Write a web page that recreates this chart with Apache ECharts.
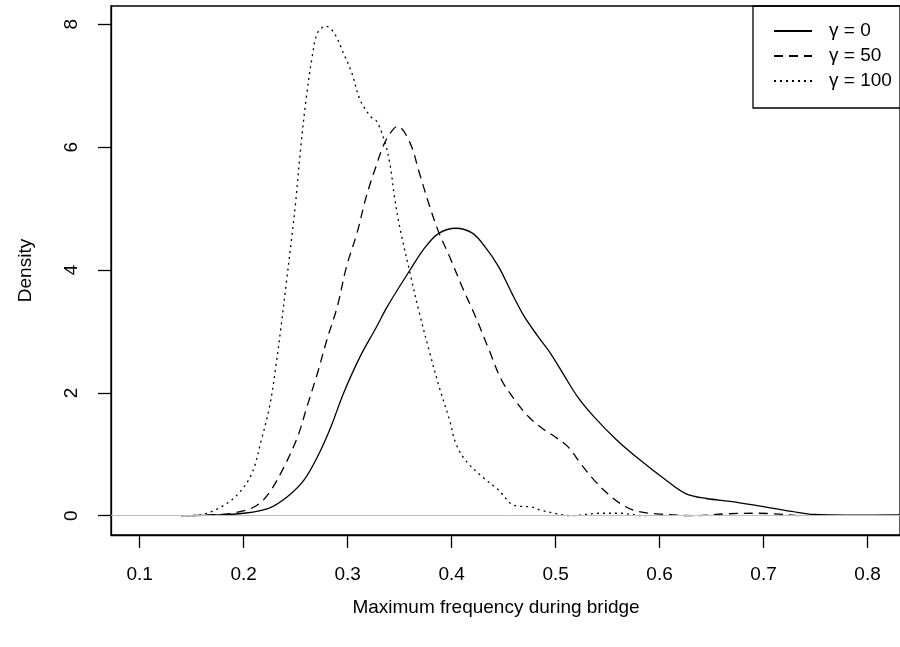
<!DOCTYPE html>
<html lang="en">
<head>
    <meta charset="UTF-8">
    <title>Maximum frequency during bridge</title>
    <script type="text/javascript" src="https://cdn.jsdelivr.net/npm/echarts@6/dist/echarts.min.js"></script>
    <style>
        html, body { margin: 0; padding: 0; background: #fff; }
    </style>
</head>
<body>
<div id="main" style="width: 900px;height:647px;"></div>

<script type="text/javascript">

    // density curves (x = max frequency, y = density)
    var gamma0X = [0.14,0.17,0.20,0.224,0.242,0.258,0.271,0.284,0.296,0.312,0.328,0.338,0.36,0.375,0.388,0.404,0.42,0.432,0.445,0.458,0.47,0.483,0.496,0.508,0.521,0.537,0.559,0.581,0.606,0.625,0.645,0.67,0.695,0.727,0.749,0.78,0.84];
    var gamma0Y = [0,0.01,0.04,0.12,0.31,0.58,0.96,1.45,1.99,2.59,3.08,3.40,4.0,4.38,4.60,4.68,4.60,4.38,4.06,3.62,3.24,2.92,2.62,2.29,1.94,1.61,1.23,0.91,0.58,0.36,0.28,0.23,0.16,0.07,0.02,0.01,0.015];

    var gamma50X = [0.15,0.163,0.189,0.211,0.224,0.239,0.252,0.261,0.271,0.28,0.29,0.299,0.309,0.317,0.322,0.328,0.334,0.341,0.348,0.36,0.369,0.379,0.388,0.398,0.41,0.423,0.436,0.448,0.461,0.474,0.489,0.499,0.512,0.524,0.537,0.55,0.562,0.575,0.591,0.635,0.663,0.695,0.735];
    var gamma50Y = [0,0.01,0.04,0.15,0.36,0.80,1.29,1.78,2.32,2.86,3.40,4.06,4.60,5.14,5.42,5.72,6.01,6.23,6.34,6.07,5.58,5.03,4.60,4.22,3.73,3.24,2.70,2.21,1.88,1.61,1.40,1.29,1.12,0.85,0.58,0.36,0.20,0.09,0.04,0.0,0.03,0.04,0.0];

    var gamma100X = [0.14,0.157,0.179,0.195,0.208,0.217,0.225,0.231,0.236,0.241,0.246,0.25,0.255,0.26,0.266,0.271,0.279,0.287,0.296,0.304,0.312,0.322,0.328,0.336,0.341,0.345,0.35,0.36,0.369,0.379,0.388,0.398,0.404,0.413,0.429,0.445,0.46,0.477,0.486,0.499,0.515,0.543,0.562,0.584,0.59];
    var gamma100Y = [0,0.01,0.15,0.36,0.69,1.23,1.78,2.43,3.08,3.78,4.49,5.1,6.01,6.77,7.48,7.86,7.97,7.86,7.53,7.21,6.77,6.5,6.42,6.07,5.70,5.2,4.71,3.95,3.30,2.65,2.10,1.56,1.18,0.91,0.64,0.42,0.17,0.14,0.09,0.04,0.0,0.04,0.04,0.0,0.0];

    var seriesNames = ['γ = 0', 'γ = 50', 'γ = 100'];
    var xTicks = [0.1,0.2,0.3,0.4,0.5,0.6,0.7,0.8];
    var yTicks = [0,2,4,6,8];

    function pairs(xs, ys) {
        var out = [];
        for (var i = 0; i < xs.length; i++) {
            out.push([xs[i], ys[i]]);
        }
        return out;
    }

    var font = 'Liberation Sans, Arial, Helvetica, sans-serif';

    function lineSeries(name, data, dash) {
        return {
            name: name,
            type: 'line',
            data: data,
            symbol: 'none',
            smooth: 0.35,
            lineStyle: { color: '#000', width: 1.3, type: dash },
            itemStyle: { color: '#000' }
        };
    }

    var myChart = echarts.init(document.getElementById('main'));

    var s0 = lineSeries(seriesNames[0], pairs(gamma0X, gamma0Y), 'solid');
    // grey zero line like R's density plot
    s0.markLine = {
        silent: true,
        symbol: 'none',
        label: { show: false },
        lineStyle: { color: '#bebebe', type: 'solid', width: 1 },
        data: [{ yAxis: 0 }]
    };

    myChart.setOption({
        animation: false,
        title: {
            text: 'Maximum frequency during bridge',
            left: 491,
            top: 593,
            textAlign: 'center',
            textStyle: { fontFamily: font, fontSize: 19, fontWeight: 'normal', color: '#000' }
        },
        legend: {
            orient: 'vertical',
            left: 753,
            top: 6,
            padding: [15, 60, 17, 20],
            itemWidth: 38,
            itemHeight: 14,
            itemGap: 5,
            borderColor: '#000',
            borderWidth: 1.3,
            borderRadius: 0,
            data: seriesNames,
            itemStyle: { opacity: 0 },
            textStyle: { fontFamily: font, fontSize: 19, color: '#000', lineHeight: 20, padding: [0, 0, 0, 12] }
        },
        grid: {
            left: 111,
            top: 6,
            right: -10,
            bottom: 112,
            show: true,
            borderColor: '#000',
            borderWidth: 1.3
        },
        xAxis: {
            type: 'value',
            min: 0.07246,
            max: 0.8312,
            axisLine: { onZero: false, lineStyle: { color: '#000', width: 1.3 } },
            axisTick: { length: 13, lineStyle: { color: '#000', width: 1.3 }, customValues: xTicks },
            axisLabel: { margin: 30, fontFamily: font, fontSize: 19, color: '#000', customValues: xTicks },
            splitLine: { show: false }
        },
        yAxis: {
            type: 'value',
            min: -0.314,
            max: 8.298,
            name: 'Density',
            nameLocation: 'middle',
            nameGap: 76,
            nameRotate: 90,
            nameTextStyle: { fontFamily: font, fontSize: 19, color: '#000' },
            axisLine: { show: true, onZero: false, lineStyle: { color: '#000', width: 1.3 } },
            axisTick: { show: true, length: 13, lineStyle: { color: '#000', width: 1.3 }, customValues: yTicks },
            axisLabel: { margin: 30, rotate: 90, fontFamily: font, fontSize: 19, color: '#000', customValues: yTicks },
            splitLine: { show: false }
        },
        series: [
            s0,
            lineSeries(seriesNames[1], pairs(gamma50X, gamma50Y), [9, 6]),
            lineSeries(seriesNames[2], pairs(gamma100X, gamma100Y), [2, 4])
        ]
    });

</script>
</body>
</html>
